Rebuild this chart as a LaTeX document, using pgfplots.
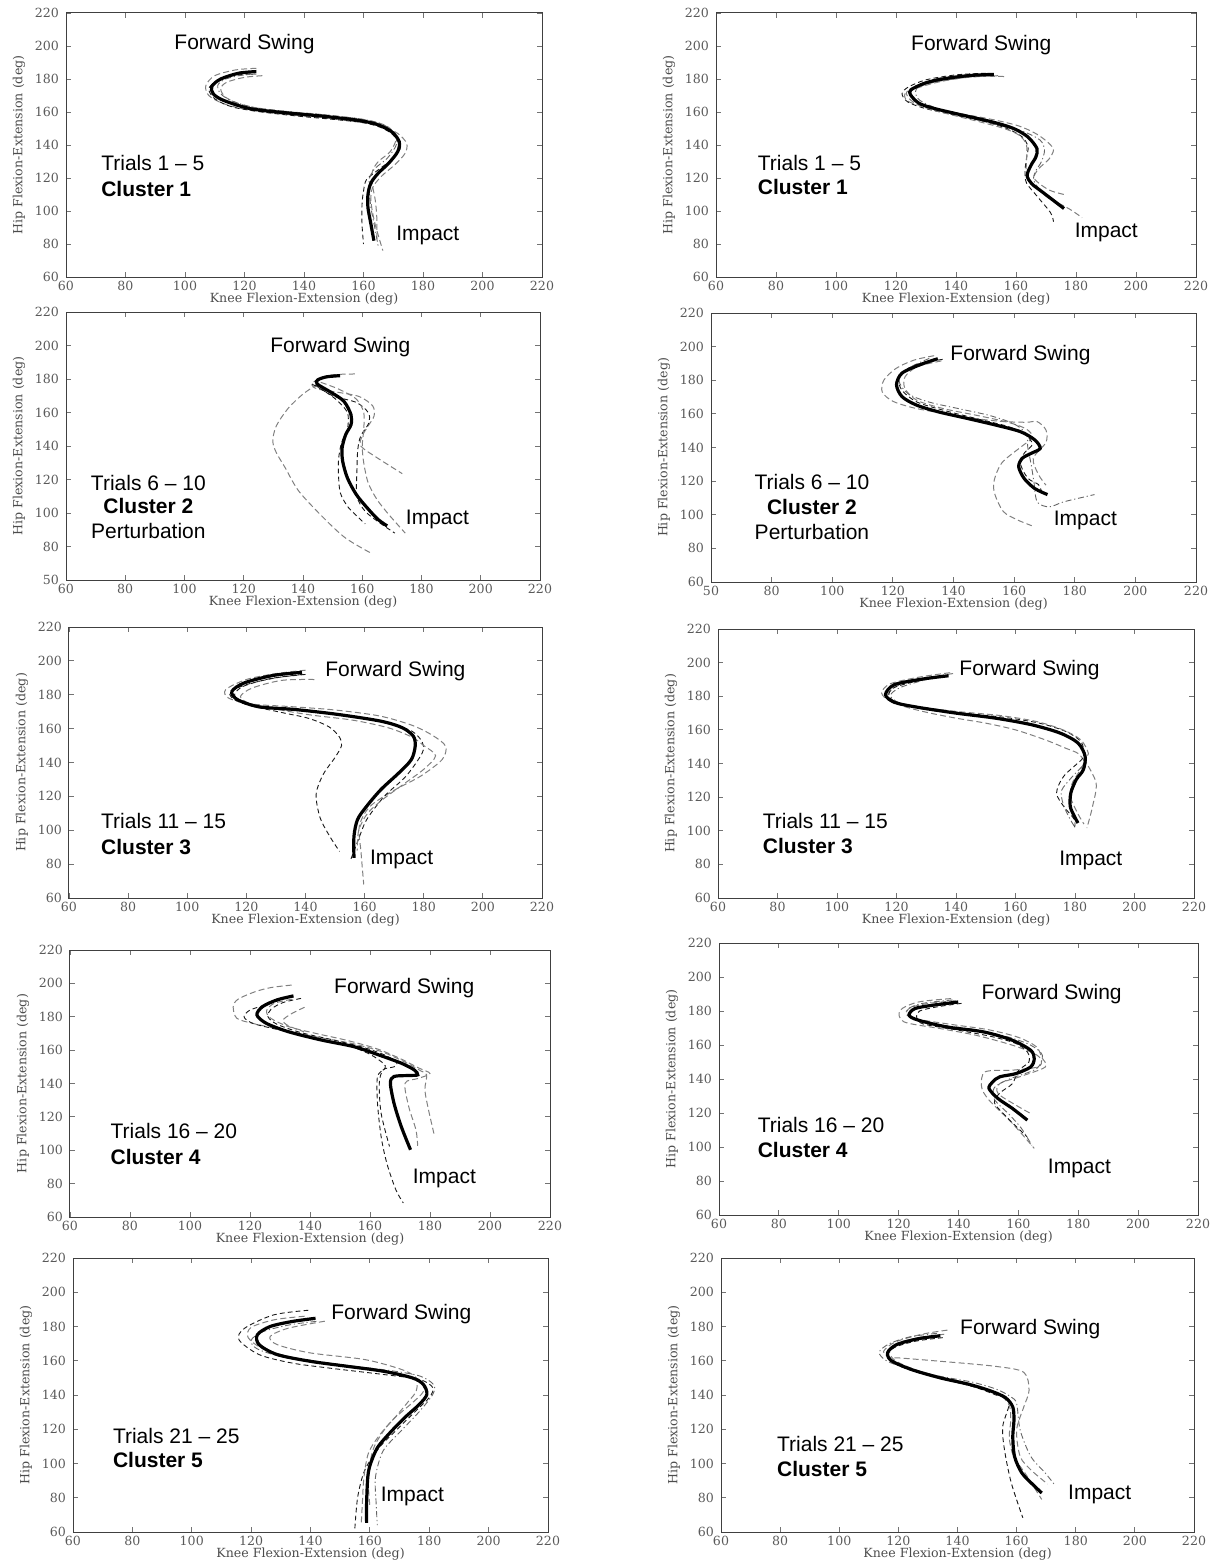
\documentclass[border=0pt]{standalone}
\usepackage{pgfplots}
\pgfplotsset{compat=1.18}
\usepackage{fontspec}
\setmainfont{Liberation Sans}
\newfontfamily\serifax{DejaVu Serif}
\newcommand{\tickfont}{\serifax\fontsize{6.3}{7}\selectfont}
\newcommand{\labfont}{\serifax\fontsize{6.3}{7}\selectfont}
\newcommand{\annfont}{\fontsize{10.5}{12}\selectfont}
\pgfplotsset{
  panel/.style={scale only axis, xmin=60, xmax=220, ymin=60, ymax=220,
    xtick={60,80,...,220}, ytick={60,80,...,220},
    tick align=inside, major tick length=2.5pt,
    axis line style={black!75, line width=0.5pt},
    tick style={black!55, line width=0.4pt},
    ticklabel style={font=\tickfont, text=black!65},
    xticklabel style={yshift=1.5pt},
    /pgf/number format/assume math mode=true,
    xlabel={Knee Flexion-Extension (deg)},
    ylabel={Hip Flexion-Extension (deg)},
    label style={font=\labfont, text=black!70},
    xlabel style={yshift=5.5pt}, ylabel style={yshift=-2pt},
    clip=false, anchor=south west},
  mean/.style={black, line width=1.6pt, smooth, no markers},
  gd/.style={black!50, dash pattern=on 3pt off 1.6pt, line width=0.5pt, smooth, no markers},
  kd/.style={black!90, dash pattern=on 2.4pt off 1.6pt, line width=0.45pt, smooth, no markers},
  dd/.style={black!60, dash pattern=on 3pt off 1.4pt on 0.6pt off 1.4pt, line width=0.45pt, smooth, no markers},
}
\begin{document}
\begin{tikzpicture}
\path[use as bounding box] (0,0) rectangle (608pt,-781pt);

% ---------------- Panel 1 ----------------
\begin{axis}[panel, at={(33pt,-138.5pt)}, width=238pt, height=132pt]
\addplot[gd] coordinates {(124,186.5) (117,185.5) (110,182) (107,176) (108,170) (113,165) (122,161) (134,158.5) (146,156.5) (158,154) (166,151.5) (171.5,147) (174.5,141) (174,135) (170.5,128) (166,121) (163,114) (162.5,106) (163.5,95) (165,85) (166.5,76)};
\addplot[gd] coordinates {(126,182) (120,181) (114,178) (112,174) (114,168.5) (121,163.5) (133,160.5) (146,158.5) (158,156) (165,153.5) (169,150) (171,144) (169,136) (165,130) (163,124) (163,116) (164,106) (164.5,95) (164.5,82)};
\addplot[kd] coordinates {(122,183) (116,182) (110.5,178.5) (108,174) (110,168) (116,163) (126,160) (138,157.5) (150,155.5) (160,153.5) (166,150.5) (170,146) (172.5,139) (170,132) (165,125) (161,119) (160,112) (159.5,104) (159.5,92) (160,80)};
\addplot[dd] coordinates {(124,183) (118,182) (113,179.5) (111,176) (112,171) (116,166.5) (124,162.5) (136,160) (148,158) (160,155.5) (167,152) (170.5,146.5) (171,140) (168,132) (164,126) (162,120) (162,112) (162.5,102) (164,88) (165,78)};
\addplot[mean] coordinates {(124,184.5) (118,183.5) (112,180) (109,175.5) (109.5,171) (113,167) (122,162) (134,159.5) (146,157.5) (158,155) (164.5,152.5) (169.5,148) (172,142) (171.5,136) (168.5,129) (165,123) (162.5,117) (161.5,110) (161.5,102) (162.5,92) (163.5,82)};
\node[font=\annfont] at (axis cs:120,201) {Forward Swing};
\node[font=\annfont, anchor=west] at (axis cs:69.5,129.3) {Trials 1 – 5};
\node[font=\annfont\bfseries, anchor=west] at (axis cs:69.5,113.5) {Cluster 1};
\node[font=\annfont] at (axis cs:181.6,85.3) {Impact};
\end{axis}

% ---------------- Panel 2 ----------------
\begin{axis}[panel, at={(358pt,-138.5pt)}, width=240pt, height=132pt]
\addplot[gd] coordinates {(156,181.5) (146,181.5) (135,178.5) (127,174.5) (123,171) (124,166.5) (130,163) (140,159.5) (152,155.5) (161,151.5) (167,146.5) (171,141) (172.5,137) (171,131.5) (167.5,125.5) (166,120) (169,115) (172,112) (176,110)};
\addplot[kd] coordinates {(150,183.5) (140,182.5) (130,179.5) (124,175) (122,171) (124,166) (130,162) (140,158) (150,154) (157,150) (162,145) (164,139) (163.5,132) (163,124) (163.5,117) (167,109) (171.5,99) (172.5,93.5)};
\addplot[gd] coordinates {(154,182) (144,181) (134,178.5) (127,175) (123.5,172) (125,167) (130,162.5) (138,158.5) (148,154) (156,150) (161,146) (163.5,140) (163.5,130) (163.5,122) (166,115) (172,107) (178,101) (182,96)};
\addplot[dd] coordinates {(148,182.5) (140,181.8) (133,180) (128,176.5) (126.5,172) (128,167) (134,162) (144,157) (154,152) (162,148.5) (168,143) (169.5,137) (168.5,130) (166.5,124) (166,118) (170,109) (176,101.5)};
\addplot[mean] coordinates {(152.6,182.8) (146,182.3) (140,181.2) (134,179.5) (129.2,177.2) (125,173.5) (124.8,170.5) (127.5,165.5) (132,162.5) (140,159) (152,154) (159.2,150) (164,144.8) (167,137.8) (166.6,132.7) (165,127.7) (163.7,121.6) (165.2,116.6) (168.8,111.5) (174.2,104) (176,101.5)};
\node[font=\annfont] at (axis cs:148.4,200.4) {Forward Swing};
\node[font=\annfont, anchor=west] at (axis cs:71.6,129.3) {Trials 1 – 5};
\node[font=\annfont\bfseries, anchor=west] at (axis cs:71.6,114.5) {Cluster 1};
\node[font=\annfont] at (axis cs:190.1,87.3) {Impact};
\end{axis}

% ---------------- Panel 3 ----------------
\begin{axis}[panel, at={(33pt,-290pt)}, width=237pt, height=134pt,
  yticklabels={50,80,100,120,140,160,180,200,220}]
\addplot[gd] coordinates {(145,177) (140,171) (135,162.5) (131,152) (129.8,143) (131,136) (134,127) (138.6,113) (147,97) (154.4,85) (163,76)};
\addplot[gd] coordinates {(157.5,183) (150,182.5) (145,180) (143,176.5) (145,174) (152,172) (159,169.5) (163.5,164) (164,158) (162,152) (160,146) (159.5,140) (165,133) (173.5,123.5)};
\addplot[kd] coordinates {(144,176.5) (150,170) (158,166) (162,160) (162.3,154) (159.5,146) (158.5,138) (158.2,125) (158.2,110) (161,101) (166,94) (171,88)};
\addplot[kd] coordinates {(143,177) (147,173) (151,168) (155,160) (155,150) (153,142) (152,132) (152,122) (152.6,112) (155,104) (158,98.5) (161,93.5)};
\addplot[gd] coordinates {(146,178) (152,174) (158,168) (160.5,160) (160.5,150) (160,140) (160.5,130) (162,118) (165,108) (169,99) (174.5,88)};
\addplot[mean] coordinates {(152.5,182) (148,181.3) (145,179.5) (144.8,177) (149.5,172) (153.8,166.7) (156.2,158.7) (156.2,152.7) (154.4,146.8) (153.2,138.8) (153.4,130.8) (155,120.9) (158,111) (161.7,103) (165.3,96.2) (168.4,92.3)};
\node[font=\annfont] at (axis cs:152.6,198.9) {Forward Swing};
\node[font=\annfont] at (axis cs:87.8,117.9) {Trials 6 – 10};
\node[font=\annfont\bfseries] at (axis cs:87.8,104) {Cluster 2};
\node[font=\annfont] at (axis cs:87.8,89.2) {Perturbation};
\node[font=\annfont] at (axis cs:185.4,96.2) {Impact};
\end{axis}

% ---------------- Panel 4 ----------------
\begin{axis}[panel, at={(355.5pt,-291pt)}, width=242.5pt, height=134.5pt,
  xticklabels={50,80,100,120,140,160,180,200,220}]
\addplot[gd] coordinates {(133.6,194.6) (127,192) (121,187) (117,180) (116.5,173) (120,167.5) (127,163.5) (136,160.5) (146,157.5) (156,155.5) (164,155) (167.6,155.4) (170.5,150.4) (170.5,143) (166.3,133.5) (168,124) (170.5,117.6)};
\addplot[gd] coordinates {(136,191.5) (128,188) (124,182) (124,175) (128,168) (137,163) (148,159) (158,155) (164,151) (166,146) (162,140) (156,131) (153.5,121) (153.5,113) (156.4,102) (161,97) (165.8,93.5)};
\addplot[dd] coordinates {(132,193) (125,187) (122,180) (125,172) (132,167) (142,163) (152,159) (160,154) (164,148) (164.5,140) (165.5,131) (166.5,120) (167.6,107.7) (171.6,104.7) (176.4,107.7) (186.5,112)};
\addplot[kd] coordinates {(136.4,192.4) (130,190.5) (125,187) (122,181) (123,174) (128,167) (137,162) (148,157) (158,152.5) (163.5,148) (166,142) (163.5,137) (162,132) (163,126) (165,121) (168,118) (169,114)};
\addplot[mean] coordinates {(134.8,192.8) (128.9,189.2) (123,184.2) (121.2,177.3) (123,170.3) (127.7,165.3) (134.8,161.3) (144.3,157.4) (153.8,153.4) (162.1,149.4) (166.8,144.5) (168.6,139.5) (165.6,136.5) (162.7,133.6) (161.5,128.6) (163.3,121.6) (166.8,115.6) (171,112)};
\node[font=\annfont] at (axis cs:162.1,195.1) {Forward Swing};
\node[font=\annfont] at (axis cs:93.3,119.6) {Trials 6 – 10};
\node[font=\annfont\bfseries] at (axis cs:93.3,104.7) {Cluster 2};
\node[font=\annfont] at (axis cs:93.3,89.5) {Perturbation};
\node[font=\annfont] at (axis cs:183.5,96.8) {Impact};
\end{axis}

% ---------------- Panel 5 ----------------
\begin{axis}[panel, at={(34.5pt,-449pt)}, width=236.5pt, height=135.5pt]
\addplot[kd] coordinates {(140,192) (130,190) (120,186) (114.5,181.5) (116,177) (121.8,173.4) (132,169.5) (141.2,166) (148,161) (151.5,155) (152.2,150) (150,143) (146,133) (143.6,121.3) (144.9,107.6) (148,97) (151.5,87.5)};
\addplot[gd] coordinates {(140,194.5) (130,192.5) (120,189) (113,183) (114,178) (122,174.5) (135,173) (150,171) (165,167.5) (176,162) (183,156) (187.4,149.6) (186.2,141.7) (178.9,131.9) (170.4,124) (161.9,114.2) (158.2,102.4) (158.8,86.7) (159.7,68)};
\addplot[kd] coordinates {(139,192) (128,189.5) (119,185) (116,180) (119,175.5) (128,172) (142,170) (157,167) (168,163) (176,158.5) (179.5,152) (179.5,145.7) (174,131.9) (166.7,120.1) (160.7,106.3) (158,95) (155.3,82.7)};
\addplot[gd] coordinates {(143,189) (132,188.5) (122,184) (118,179) (121,175) (130,171.5) (142,168) (156,165) (168,160.5) (176,155) (180,150) (184,144) (180,136) (173,127) (166,118) (161,110) (158,100) (157.5,88)};
\addplot[mean] coordinates {(138.8,193.2) (129,191.4) (119.3,187) (115.1,182) (116.9,177.2) (124.2,172.9) (136.4,171.3) (150.9,168.4) (165.5,164.4) (172.8,160.5) (176.5,155.5) (177.1,149.6) (175.8,141.7) (171.6,133.9) (165.5,124) (160.7,114.2) (157.6,106.3) (156.4,96.5) (156.4,83.7)};
\node[font=\annfont] at (axis cs:170.4,193.8) {Forward Swing};
\node[font=\annfont, anchor=west] at (axis cs:68.5,105.2) {Trials 11 – 15};
\node[font=\annfont\bfseries, anchor=west] at (axis cs:68.5,90.4) {Cluster 3};
\node[font=\annfont] at (axis cs:172.5,82.8) {Impact};
\end{axis}

% ---------------- Panel 6 ----------------
\begin{axis}[panel, at={(359pt,-449pt)}, width=238pt, height=134.5pt]
\addplot[gd] coordinates {(139,193.5) (129,190.5) (120,186) (117,180) (121.7,174.5) (130,170.5) (139.9,167) (150,164) (160,160) (170.1,154) (177,149) (181,146) (183,141) (181,134) (179,128) (178.5,120) (181,110) (183,104)};
\addplot[kd] coordinates {(136,191.5) (127,189) (119,185) (117.5,180) (121,175.5) (130,172.5) (142,170) (156,167.5) (168,164) (177,159) (182,153) (183,146) (182.2,142.3) (176.2,132.4) (173.8,122.5) (176.2,114.5) (179.8,106.6) (179.8,101.6)};
\addplot[gd] coordinates {(138,194) (128,191.5) (118,187.5) (115,182) (118,177) (126,174) (140,171) (155,168.5) (167,165) (176,160) (182,154) (184.5,146) (183.4,142.3) (187.1,128.4) (185.9,114.5) (184,101.6)};
\addplot[dd] coordinates {(136,192.5) (128,189) (121,185) (118,180.5) (121,176) (130,172) (145,169) (160,165) (171,160.5) (179,155) (183,148) (183,140) (179,132) (175.5,124) (176,116) (178,108) (180,102)};
\addplot[mean] coordinates {(137.5,192.2) (129,190.3) (119.3,186.9) (116.3,181) (119.3,176.4) (126.6,173.6) (139.9,170) (153.2,167) (165.3,163.1) (175,158.1) (181,152.2) (183.4,144.3) (182.8,136.3) (180.4,130.4) (178.6,122.5) (178.4,114.5) (179.8,108.6) (181,104.6)};
\node[font=\annfont] at (axis cs:164.7,195.8) {Forward Swing};
\node[font=\annfont, anchor=west] at (axis cs:72.7,105.6) {Trials 11 – 15};
\node[font=\annfont\bfseries, anchor=west] at (axis cs:72.7,90.7) {Cluster 3};
\node[font=\annfont] at (axis cs:185.3,82.4) {Impact};
\end{axis}

% ---------------- Panel 7 ----------------
\begin{axis}[panel, at={(35pt,-608.5pt)}, width=240pt, height=133.5pt]
\addplot[gd] coordinates {(133.9,199) (127,197.5) (121.7,195) (116,190.5) (114.4,186) (115.6,179.1) (121,176) (130,172.5) (142,168) (154,164) (164,159) (172,152.5) (177,147.5) (178.9,145.2) (178.3,136.2) (179.5,124.2) (181.4,109.3)};
\addplot[kd] coordinates {(130,190) (125,187) (120,184) (118,180) (121,176) (130,172) (142,167) (153,162.5) (160,157.5) (164.5,152) (165,149.2) (162.5,144.2) (162.5,128.2) (163.7,108.3) (165.6,92.3) (168.6,76.4) (171.1,68.4)};
\addplot[kd] coordinates {(137,191) (131,188.5) (127,184.5) (126,180) (129,175.5) (137,170.5) (148,166) (158,161.5) (165,157) (169,152.5) (168,150) (164.4,148.2) (163.1,140.2) (163.7,122.2) (166.5,102.3)};
\addplot[gd] coordinates {(134,190.5) (128,188) (125.5,183.5) (127,179) (133,174) (142,170) (152,166) (162,161) (170,155) (176,149.5) (180,146) (176,143) (171.7,140.2) (172.9,126.2) (175.3,112.3) (175.9,102.7)};
\addplot[gd] coordinates {(138.2,185.7) (134,182) (131,178) (132.7,174.7) (138,171)};
\addplot[mean] coordinates {(134.5,192.5) (129,190.1) (124.2,186.1) (122.3,181.1) (125.4,176.1) (132.7,171.1) (143.7,166.1) (154.6,162.1) (162.8,157.2) (170.4,152.2) (174.7,148.2) (175.9,145.2) (172.9,144.8) (168,144.2) (166.8,140.2) (168,128.2) (170.4,114.3) (173.5,100.3)};
\node[font=\annfont] at (axis cs:171.4,197) {Forward Swing};
\node[font=\annfont, anchor=west] at (axis cs:71.2,111.3) {Trials 16 – 20};
\node[font=\annfont\bfseries, anchor=west] at (axis cs:71.2,95.9) {Cluster 4};
\node[font=\annfont] at (axis cs:184.8,83.3) {Impact};
\end{axis}

% ---------------- Panel 8 ----------------
\begin{axis}[panel, at={(359.5pt,-607.5pt)}, width=239.5pt, height=136pt]
\addplot[gd] coordinates {(137.5,187.3) (126.6,185.3) (120.5,180.4) (121.8,173.6) (133.8,169.7) (145.9,165.7) (158,159.9) (165.3,155) (167.7,151.1) (166.5,147.1) (158,145.2) (148.9,144.2) (147.7,135.4) (150.2,127.6) (158,113.9) (165.3,99.2)};
\addplot[gd] coordinates {(139,186) (130,184.5) (124,182) (122.5,178) (127,175) (138,172) (150,169) (160,164.5) (166,159) (167.7,153) (169,147.1) (160.4,141.3) (153.8,137.3) (153.2,131.5) (159.2,124.6) (164.1,119.7)};
\addplot[kd] coordinates {(141,184.5) (133,182.5) (127,180) (126,176.5) (128,172.5) (139.9,168.7) (151,165) (159,161) (163,156) (163.5,150) (160,145) (158,137.3) (154,132) (152,126) (157,116) (162.9,106)};
\addplot[dd] coordinates {(138,186.5) (128,184.5) (123,181) (124,176) (131,172.5) (144,169.5) (156,165) (164,160) (168,154) (166,146) (157,140) (152,135) (152,128) (157,119) (161,111) (164.5,101)};
\addplot[mean] coordinates {(139.9,185.3) (131.4,183.4) (125.4,181.4) (123.5,177.5) (126.6,174.6) (136.2,170.6) (148.4,167.7) (158,162.8) (164.1,156.9) (165.3,152) (164.1,147.1) (159.2,143.2) (153.8,141.3) (151.4,138.3) (150.2,134.4) (153.2,128.5) (158,122.7) (163,115.8)};
\node[font=\annfont] at (axis cs:171.1,190.2) {Forward Swing};
\node[font=\annfont, anchor=west] at (axis cs:70.6,112.9) {Trials 16 – 20};
\node[font=\annfont\bfseries, anchor=west] at (axis cs:70.6,98.2) {Cluster 4};
\node[font=\annfont] at (axis cs:180.4,87.3) {Impact};
\end{axis}

% ---------------- Panel 9 ----------------
\begin{axis}[panel, at={(36.5pt,-766pt)}, width=237.5pt, height=137pt]
\addplot[kd] coordinates {(139.3,189.5) (127.6,186.8) (117.8,179) (115.9,172.3) (122.7,163.6) (133.7,158.7) (146,155.8) (164.5,152) (176.7,149.1) (181.2,144.3) (180,138.5) (175.5,130.8) (169.3,120.1) (163.2,109.4) (158.3,96.2) (155.9,80.5) (154.9,61)};
\addplot[gd] coordinates {(144.8,183.1) (132.5,179) (126.4,174.2) (128.8,169.4) (139.9,164.6) (158.3,160.7) (170.7,154.9) (175.6,150) (175.6,142.3) (173.1,136.5) (169,128) (165,120) (161.5,110) (160,100) (159.5,88) (160,75)};
\addplot[dd] coordinates {(142,183) (133,181) (124,177) (120,172) (122,167) (130,162.5) (142,159) (156,156.5) (168,154) (177,151) (181.5,146) (181.2,140.4) (176.9,130.8) (170.6,119.2) (164.5,107.5) (161.9,92.2) (162.1,77) (162.5,64)};
\addplot[gd] coordinates {(138,186) (128,184) (120,179.5) (119,173.5) (124,167) (134,162) (147,158.5) (160,155.5) (170,152.5) (177,148) (178,142) (174,135) (168,126) (163,116) (159.5,106) (158,92) (157.5,78) (157.1,65)};
\addplot[mean] coordinates {(141.7,184.8) (133.7,182.9) (126.4,180) (122.1,175.2) (122.7,169.4) (128.8,163.6) (139.9,159.7) (152.2,156.8) (164.5,153.9) (174.3,150) (178,146.2) (179.2,140.4) (176.7,134.6) (171.8,126.9) (166.9,118.2) (162.6,109.4) (160.2,99.8) (159.3,92.2) (158.9,77) (158.9,65.4)};
\node[font=\annfont] at (axis cs:170.6,187.1) {Forward Swing};
\node[font=\annfont, anchor=west] at (axis cs:71.1,116.3) {Trials 21 – 25};
\node[font=\annfont\bfseries, anchor=west] at (axis cs:71.1,102.3) {Cluster 5};
\node[font=\annfont] at (axis cs:174.3,80.5) {Impact};
\end{axis}

% ---------------- Panel 10 ----------------
\begin{axis}[panel, at={(360.5pt,-766pt)}, width=236.5pt, height=137pt]
\addplot[gd] coordinates {(136.6,177.9) (128,175.5) (119,171) (115,165.5) (117,161.8) (120.7,161.6) (134.2,159.7) (152.6,156.8) (162.4,153.3) (164.2,142.7) (162.4,133) (160,119.5) (161.2,104.1) (165,96) (170.5,88)};
\addplot[kd] coordinates {(135,173.5) (126,171.5) (119,168) (116,163.5) (118,159) (125,154) (136,149) (146,144.5) (153,140) (157.6,136.5) (155.3,121.7) (155.9,107.9) (158.2,88.6) (162.1,68.3)};
\addplot[dd] coordinates {(133,176) (124,174) (117,170) (113.5,165) (116,160) (123,155.5) (134,151) (145,147.5) (153,143.5) (158,139) (160,135) (161.2,119.5) (164.8,104.1) (169.7,94.4) (172.8,87.7)};
\addplot[gd] coordinates {(135.5,175.5) (127,173.5) (120,170.5) (117,165.5) (119,160) (127,154) (138,149) (147,145) (154,140.5) (157.5,134) (158,125) (157.5,115) (159,104) (163,94) (168.5,79)};
\addplot[mean] coordinates {(134.2,174.6) (126.8,172.9) (119.5,169.5) (116.4,164.9) (117.6,160.1) (124.4,154.9) (134.2,150) (144,146.2) (151.3,142.3) (156.2,138.5) (158.7,133) (159.1,125.3) (158.7,115.7) (159.3,104.1) (161.8,94.4) (166.1,86.7) (168.5,82.8)};
\node[font=\annfont] at (axis cs:164.6,178.5) {Forward Swing};
\node[font=\annfont, anchor=west] at (axis cs:76.6,111.6) {Trials 21 – 25};
\node[font=\annfont\bfseries, anchor=west] at (axis cs:76.6,96.7) {Cluster 5};
\node[font=\annfont] at (axis cs:188.1,82) {Impact};
\end{axis}
\end{tikzpicture}
\end{document}
